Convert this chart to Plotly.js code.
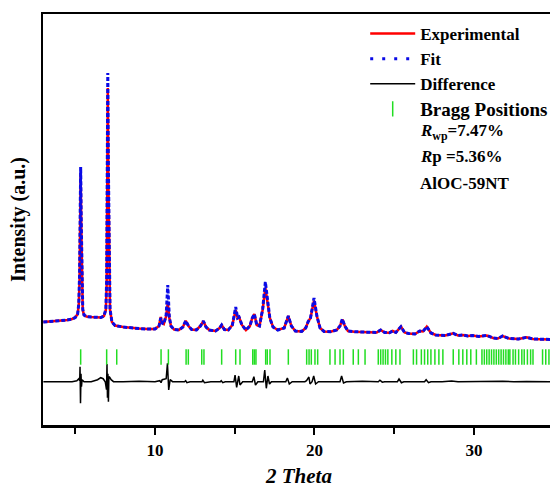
<!DOCTYPE html>
<html>
<head>
<meta charset="utf-8">
<script src="https://cdn.plot.ly/plotly-3.0.1.min.js"></script>
<style>
  html, body { margin: 0; padding: 0; overflow: hidden; background: #fff; }
  #chart { width: 560px; height: 488px; }
</style>
</head>
<body>
<div id="chart"></div>
<script>
// Powder XRD Rietveld refinement of AlOC-59NT (intensities in arbitrary units)

// Observed pattern
const twoTheta = [
  3.0, 3.5, 4.0, 4.5, 4.8, 5.0, 5.15, 5.22, 5.27, 5.30, 5.34, 5.38, 5.42, 5.47, 5.55, 5.7,
  6.0, 6.3, 6.6, 6.8, 6.92, 6.97, 7.0, 7.04, 7.08, 7.12, 7.18, 7.3, 7.5, 8.0, 8.5, 9.0,
  9.5, 10.0, 10.25, 10.36, 10.45, 10.55, 10.7, 10.8, 10.9, 11.0, 11.2, 11.5, 11.75, 11.93,
  12.1, 12.3, 12.6, 12.85, 13.03, 13.2, 13.4, 13.8, 14.05, 14.18, 14.35, 14.6, 14.85, 15.06,
  15.18, 15.27, 15.45, 15.7, 15.95, 16.1, 16.23, 16.38, 16.55, 16.75, 16.92, 17.05, 17.2,
  17.4, 17.7, 18.1, 18.36, 18.55, 18.8, 19.2, 19.45, 19.6, 19.75, 19.97, 20.15, 20.35, 20.6,
  21.0, 21.4, 21.6, 21.75, 21.9, 22.1, 22.5, 23.0, 23.5, 23.9, 24.15, 24.4, 24.7, 24.9, 25.1,
  25.42, 25.65, 25.9, 26.3, 26.6, 26.8, 27.04, 27.3, 27.6, 28.2, 28.7, 29.0, 29.3, 29.6, 29.9,
  30.3, 30.8, 31.2, 31.5, 31.8, 32.2, 32.8, 33.3, 33.7, 34.2, 34.7, 35.1
];
const experimental = [
  103, 103.5, 104, 105, 106, 107.5, 111, 120, 145, 195, 252, 195, 135, 115, 110, 108.5,
  108, 107.5, 107.5, 109, 115, 140, 225, 337, 245, 155, 115, 103, 99.5, 98, 97, 96.5,
  96, 96, 99, 108, 102, 101, 109, 122, 107, 99, 95.5, 95, 98, 104.3,
  99, 95.5, 95, 99, 104, 98, 95, 94, 97, 100, 95.5, 95, 100, 115,
  107, 108, 100, 95, 99, 107, 111, 100, 99, 115, 137, 125, 107,
  98, 95, 97, 109, 99, 94, 93.5, 97, 103.3, 107, 124.3, 109, 97, 93.5,
  93.3, 95, 99, 105.7, 99, 94, 93.3, 93, 92.7, 92.5, 95, 92.5, 92.3, 94, 92.5,
  98.3, 92.5, 91.5, 91, 94, 93.5, 98.3, 92, 90, 89.5, 91.7, 89.5, 90, 89, 89.5,
  88.5, 89.5, 87, 86.5, 89, 86.5, 86, 87.7, 86, 85.7, 85.5, 85.5
];
// Calculated pattern
const fit = [
  103, 103.5, 104, 105, 106, 107.5, 111, 121, 150, 205, 258, 200, 138, 116, 110, 108.5,
  108, 107.5, 107.5, 109, 116, 145, 240, 352, 255, 160, 116, 103, 99.5, 98, 97, 96.5,
  96, 96, 99, 107, 102, 101, 110, 140, 108, 99, 95.5, 95, 98, 104.3,
  99, 95.5, 95, 99, 104, 98, 95, 94, 97, 100, 95.5, 95, 100, 118,
  107, 108, 100, 95, 99, 107, 111, 100, 99, 116, 143, 126, 107,
  98, 95, 97, 109, 99, 94, 93.5, 97, 103.3, 107, 127, 109, 97, 93.5,
  93.3, 95, 99, 106, 99, 94, 93.3, 93, 92.7, 92.5, 95, 92.5, 92.3, 94, 92.5,
  98.3, 92.5, 91.5, 91, 94, 93.5, 98.3, 92, 90, 89.5, 91.7, 89.5, 90, 89, 89.5,
  88.5, 89.5, 87, 86.5, 89, 86.5, 86, 87.7, 86, 85.7, 85.5, 85.5
];

// Observed minus calculated
const diffTheta = [
  3.0, 4.0, 4.8, 5.1, 5.22, 5.28, 5.30, 5.33, 5.36, 5.39, 5.43, 5.55, 6.0, 6.4, 6.6, 6.75,
  6.88, 6.96, 6.99, 7.02, 7.05, 7.08, 7.11, 7.16, 7.25, 7.4, 8.0, 9.0, 10.0, 10.3, 10.38,
  10.45, 10.7, 10.78, 10.86, 10.95, 11.1, 11.85, 11.92, 12.0, 12.2, 12.95, 13.0, 13.1, 13.5,
  14.1, 14.15, 14.25, 14.4, 14.95, 15.02, 15.12, 15.25, 15.33, 15.5, 16.1, 16.2, 16.3, 16.45,
  16.8, 16.88, 16.98, 17.08, 17.18, 17.3, 18.2, 18.3, 18.42, 18.6, 19.4, 19.5, 19.65, 19.72,
  19.85, 19.95, 20.07, 20.25, 21.6, 21.7, 21.82, 22.0, 23.0, 24.0, 24.1, 24.25, 24.4, 25.2,
  25.3, 25.45, 25.6, 26.9, 27.0, 27.15, 27.3, 28.0, 28.6, 29.0, 30.0, 31.0, 31.8, 32.5,
  33.3, 35.1
];
const difference = [
  0, 0.3, 0, 1, 3, 1, 15, -21.6, 8, -5, 2, 0, 0, 2, 4, 3,
  0, -8, 17.7, -16, 8, -20, 5, 4.5, 2, 0, 0, 0.5, 0, 1, -1,
  2, 3, 18.4, -8.3, 2, 0, 0, 1, -1, 0, 0, 1.5, -1, 0,
  0, 1, -1, 0, 0, 6.7, -5.6, 5.7, -3.3, 0, 0, 5, -3.3, 0,
  0, 11.7, -6.6, 5.7, -2.3, 0, 0, 3.7, -2.3, 0, 0, 1, 4.7, -2.3,
  0, 5.7, -2.3, 0, 0, 5.7, -1.3, 0, 0.5, 0, 1.5, -0.5, 0, 0,
  2.7, -1, 0, 0, 2, -1, 0, 0, 0.7, 0, 0.3, 0, 0.5, 0,
  0.3, 0
];

// Reflection positions
const braggPositions = [
  5.34, 6.97, 7.60, 10.38, 10.84, 11.95, 12.09, 12.93, 13.07, 14.18, 15.06, 15.33,
  16.13, 16.23, 16.33, 16.94, 17.04, 17.21, 18.36, 19.51, 19.66, 19.80, 20.03, 20.20,
  20.97, 21.29, 21.60, 21.81, 22.43, 22.75, 23.17, 24.00, 24.15, 24.30, 24.45, 24.60,
  24.85, 25.10, 25.36, 26.20, 26.40, 26.70, 26.90, 27.10, 27.30, 27.55, 27.80, 28.05,
  28.70, 29.05, 29.30, 29.55, 29.80, 30.15, 30.50, 30.65, 30.80, 30.95, 31.10, 31.25,
  31.40, 31.55, 31.70, 31.85, 32.00, 32.15, 32.25, 32.45, 32.60, 32.80, 33.00, 33.15,
  33.35, 33.55, 33.70, 34.30, 34.50, 34.70, 34.90
];

const seriesNames = ['Experimental', 'Fit', 'Difference', 'Bragg Positions'];
const statsLines = ['<b><i>R</i><sub>wp</sub>=7.47%</b>', '<b><i>R</i>p =5.36%</b>', '<b>AlOC-59NT</b>'];

// vertical placement of the difference curve and reflection markers
const diffOffset = 43.3;
const braggLevel = 68;

const serif = 'Liberation Serif, Times New Roman, serif';

const traces = [
  {
    x: twoTheta, y: experimental, name: seriesNames[0], type: 'scatter', mode: 'lines',
    line: { color: '#ff0000', width: 2.5 }
  },
  {
    x: twoTheta, y: fit, name: seriesNames[1], type: 'scatter', mode: 'lines',
    line: { color: '#0a0ae6', width: 3, dash: '4px,2px' }, showlegend: false
  },
  {
    x: [null], y: [null], name: seriesNames[1], type: 'scatter', mode: 'lines',
    line: { color: '#0a0ae6', width: 3, dash: '3px,9px' }
  },
  {
    x: diffTheta, y: difference.map(d => d + diffOffset), name: seriesNames[2],
    type: 'scatter', mode: 'lines', line: { color: '#000000', width: 1.5 }
  },
  {
    x: braggPositions, y: braggPositions.map(() => braggLevel),
    name: '<span style="font-size:19px">' + seriesNames[3] + '</span>',
    type: 'scatter', mode: 'markers',
    marker: { symbol: 'line-ns', size: 11, color: '#22dd22', line: { color: '#22dd22', width: 1.5 } }
  }
];

const layout = {
  width: 560, height: 488,
  margin: { l: 43, r: 5, t: 14, b: 63 },
  paper_bgcolor: '#ffffff', plot_bgcolor: '#ffffff',
  showlegend: true,
  legend: {
    x: 0.6293, y: 0.995, xanchor: 'left', yanchor: 'top',
    bgcolor: 'rgba(0,0,0,0)', borderwidth: 0, itemwidth: 45,
    font: { family: serif, size: 17, color: '#000', weight: 'bold' },
    tracegroupgap: 0
  },
  xaxis: {
    range: [2.978, 35.08], tickmode: 'linear', tick0: 0, dtick: 10,
    ticks: 'outside', ticklen: 7, tickwidth: 2, tickcolor: '#000',
    minor: { dtick: 5, ticks: 'outside', ticklen: 6, tickwidth: 2, tickcolor: '#000' },
    showline: true, linewidth: 2.5, linecolor: '#000', mirror: true,
    showgrid: false, zeroline: false,
    tickfont: { family: serif, size: 17, color: '#000', weight: 'bold' },
    ticklabelstandoff: 1,
    title: { text: '<b><i>2 Theta</i></b>', font: { family: serif, size: 21, color: '#000' }, standoff: 16 }
  },
  yaxis: {
    range: [0, 411], showticklabels: false, ticks: '',
    showline: true, linewidth: 2.5, linecolor: '#000', mirror: true,
    showgrid: false, zeroline: false,
    title: { text: '<b>Intensity (a.u.)</b>', font: { family: serif, size: 20, color: '#000' }, standoff: 10 }
  },
  annotations: statsLines.map((t, i) => ({
    text: t, xref: 'paper', yref: 'paper', x: 0.732, y: [0.714, 0.653, 0.588][i],
    xanchor: 'left', yanchor: 'middle', showarrow: false,
    font: { family: serif, size: 17, color: '#000' }
  }))
};

Plotly.newPlot('chart', traces, layout, { displayModeBar: false, staticPlot: true });
</script>
</body>
</html>
